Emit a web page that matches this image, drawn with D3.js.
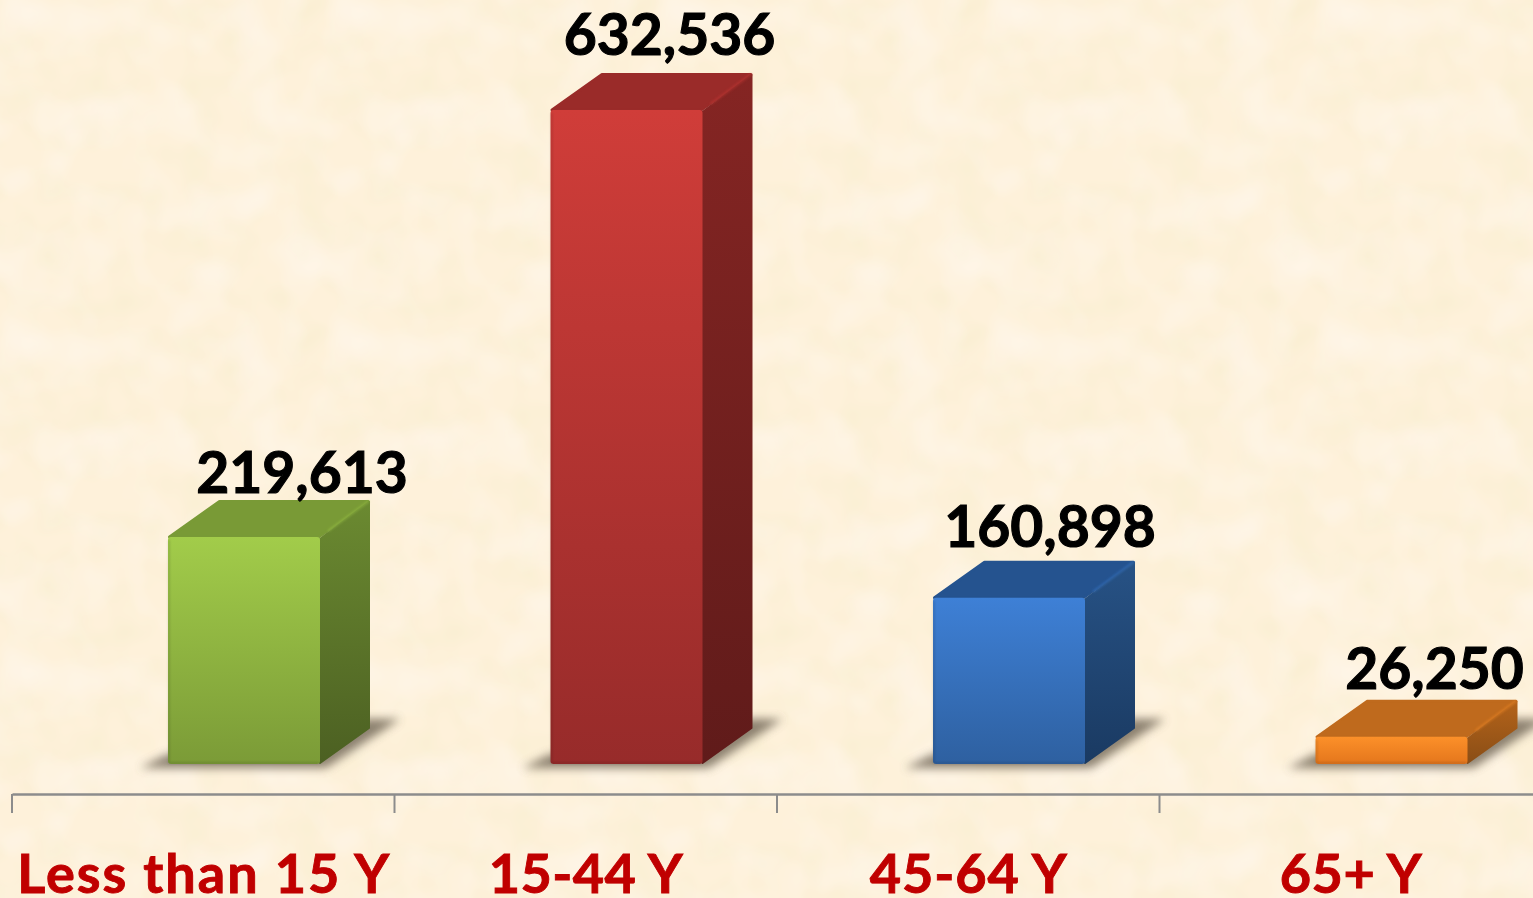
<!DOCTYPE html>
<html><head><meta charset="utf-8">
<style>html,body{margin:0;padding:0;background:#fdf1dc;overflow:hidden}svg{display:block}</style>
<script src="https://cdn.jsdelivr.net/npm/d3@7/dist/d3.min.js"></script>
</head><body><svg id="c" width="1533" height="898"></svg>
<script>
const categories = ["Less than 15 Y", "15-44 Y", "45-64 Y", "65+ Y"];
const values = [219613, 632536, 160898, 26250];
const frontTop = ["#a2cc4a", "#d03d39", "#3e80d6", "#fc9029"];
const frontBottom = ["#7b9b37", "#972b2a", "#2e60a0", "#e4761c"];
const topFace = ["#799a36", "#9a2b29", "#25538f", "#bf6a1d"];
const sideTop = ["#6b8a31", "#852523", "#275285", "#b4631a"];
const sideBottom = ["#4c6022", "#601b1a", "#1a3a62", "#8a4e16"];
const labelLift = [44, 55, 51, 48];
const labelShift = [58, 43, 41, 43];
const categoryWidths = [372, 194, 197, 142];

const W = 1533, H = 898, depthX = 50, depthY = 37;
const svg = d3.select("#c");
const defs = svg.append("defs");

const x = d3.scaleBand().domain(categories).range([12, 1542]);
const y = d3.scaleLinear().domain([0, 632536]).range([764, 110]);
const barW = 152, inset = 156;

// parchment background
const tex = defs.append("filter").attr("id", "tex").attr("x", 0).attr("y", 0).attr("width", 1).attr("height", 1);
tex.append("feTurbulence").attr("type", "fractalNoise").attr("baseFrequency", 0.028).attr("numOctaves", 2).attr("seed", 23).attr("stitchTiles", "stitch");
tex.append("feColorMatrix").attr("type", "matrix").attr("values",
  "0 0 0 0 0.93  0 0 0 0 0.85  0 0 0 0 0.62  1.2 0 0 0 -0.5");
const tex2 = defs.append("filter").attr("id", "tex2").attr("x", 0).attr("y", 0).attr("width", 1).attr("height", 1);
tex2.append("feTurbulence").attr("type", "fractalNoise").attr("baseFrequency", 0.02).attr("numOctaves", 2).attr("seed", 5).attr("stitchTiles", "stitch");
tex2.append("feColorMatrix").attr("type", "matrix").attr("values",
  "0 0 0 0 1  0 0 0 0 0.94  0 0 0 0 0.88  1.2 0 0 0 -0.5");
const pat = defs.append("pattern").attr("id", "paper").attr("width", 330).attr("height", 330).attr("patternUnits", "userSpaceOnUse");
pat.append("rect").attr("width", 330).attr("height", 330).attr("fill", "#fef1da");
pat.append("rect").attr("width", 330).attr("height", 330).attr("filter", "url(#tex)");
pat.append("rect").attr("width", 330).attr("height", 330).attr("filter", "url(#tex2)");
svg.append("rect").attr("width", W).attr("height", H).attr("fill", "url(#paper)");

defs.append("filter").attr("id", "blur").attr("x", "-20%").attr("y", "-60%").attr("width", "140%").attr("height", "220%")
  .append("feGaussianBlur").attr("stdDeviation", 5);
defs.append("filter").attr("id", "soft").attr("x", "-30%").attr("y", "-30%").attr("width", "160%").attr("height", "160%")
  .append("feGaussianBlur").attr("stdDeviation", 0.9);

categories.forEach((c, i) => {
  const f = defs.append("linearGradient").attr("id", "front" + i).attr("x1", 0).attr("y1", 0).attr("x2", 0).attr("y2", 1);
  f.append("stop").attr("offset", 0).attr("stop-color", frontTop[i]);
  f.append("stop").attr("offset", 1).attr("stop-color", frontBottom[i]);
  const s = defs.append("linearGradient").attr("id", "side" + i).attr("x1", 0).attr("y1", 0).attr("x2", 0).attr("y2", 1);
  s.append("stop").attr("offset", 0).attr("stop-color", sideTop[i]);
  s.append("stop").attr("offset", 1).attr("stop-color", sideBottom[i]);
});

const data = categories.map((c, i) => ({ c, v: values[i], i }));
const pts = a => a.map(p => p.join(",")).join(" ");
const bars = svg.selectAll("g.bar").data(data).join("g").attr("class", "bar");

// ground shadow
bars.append("polygon").attr("filter", "url(#blur)").attr("fill", "#6f6554").attr("opacity", 0.8)
  .attr("points", d => {
    const l = x(d.c) + inset, r = l + barW, b = y(0);
    return pts([[l - 28, b + 4], [r + 6, b + 4], [r + depthX + 30, b - depthY - 8], [r + depthX - 10, b - depthY - 8], [r, b - 10], [l, b - 10]]);
  });

// top face
bars.append("polygon").attr("fill", d => topFace[d.i]).attr("stroke", d => topFace[d.i]).attr("stroke-width", 3).attr("stroke-linejoin", "round")
  .attr("points", d => {
    const l = x(d.c) + inset + 1.5, r = l + barW - 3, t = y(d.v);
    return pts([[l, t], [l + depthX, t - depthY + 1.5], [r + depthX, t - depthY + 1.5], [r, t]]);
  });

// side face
bars.append("polygon").attr("fill", d => `url(#side${d.i})`).attr("stroke", d => `url(#side${d.i})`).attr("stroke-width", 2).attr("stroke-linejoin", "round")
  .attr("points", d => {
    const l = x(d.c) + inset, r = l + barW, t = y(d.v), b = y(0);
    return pts([[r, t + 2], [r + depthX - 1, t - depthY + 2], [r + depthX - 1, b - depthY + 1], [r, b - 1]]);
  });

// soft bevel along the receding top-right edge
bars.append("path").attr("fill", "none").attr("stroke", d => frontTop[d.i]).attr("stroke-width", 2.5).attr("opacity", 0.4).attr("filter", "url(#soft)")
  .attr("d", d => {
    const l = x(d.c) + inset, r = l + barW, t = y(d.v);
    return `M${r + 8},${t - 6}L${r + depthX - 1},${t - depthY + 1}`;
  });

// front face
bars.append("rect").attr("x", d => x(d.c) + inset).attr("y", d => y(d.v))
  .attr("width", barW).attr("height", d => y(0) - y(d.v)).attr("rx", 3)
  .attr("fill", d => `url(#front${d.i})`);

// soft bevel on the front's edges
bars.append("path").attr("fill", "none").attr("stroke", "#000").attr("stroke-opacity", 0.13).attr("stroke-width", 2).attr("filter", "url(#soft)")
  .attr("d", d => {
    const l = x(d.c) + inset, r = l + barW, t = y(d.v), b = y(0);
    return `M${l + 1},${t + 3}V${b - 1}H${r - 1}`;
  });

// value labels
svg.selectAll("text.val").data(data).join("text").attr("class", "val")
  .attr("x", d => x(d.c) + inset + barW / 2 + labelShift[d.i])
  .attr("y", d => y(d.v) - labelLift[d.i])
  .attr("text-anchor", "middle")
  .attr("font-family", "Lato").attr("font-weight", 700).attr("font-size", 57)
  .attr("fill", "#000").attr("stroke", "#000").attr("stroke-width", 1.1)
  .text(d => d3.format(",")(d.v));

// axis: category labels from the band scale, ticks at the band edges
const axisG = svg.append("g").attr("transform", "translate(0,794)")
  .call(d3.axisBottom(x).tickSize(0));
axisG.select(".domain").attr("stroke", "#8c8c8c").attr("stroke-width", 2.4);
axisG.selectAll(".tick text").attr("y", 99).attr("dy", 0)
  .attr("font-family", "Lato").attr("font-weight", 700).attr("font-size", 54)
  .attr("fill", "#c00000").attr("stroke", "#c00000").attr("stroke-width", 0.9)
  .attr("textLength", (d, i) => categoryWidths[i]).attr("lengthAdjust", "spacing");
axisG.selectAll("line.edge").data(categories).join("line").attr("class", "edge")
  .attr("x1", d => x(d)).attr("x2", d => x(d)).attr("y1", 0).attr("y2", 19)
  .attr("stroke", "#8c8c8c").attr("stroke-width", 2);
</script></body></html>
